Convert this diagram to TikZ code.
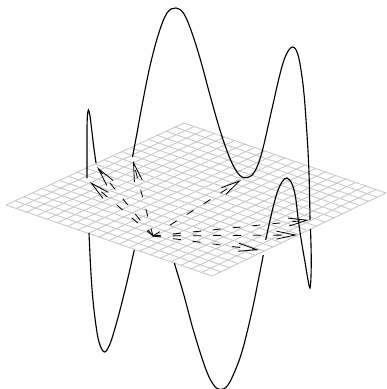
\documentclass[tikz,border=0pt]{standalone}
\usetikzlibrary{calc,arrows.meta}
\begin{document}
\begin{tikzpicture}[
x=0.75pt,y=-0.75pt,
grid line/.style={draw=black!22,line width=0.65pt},
curve/.style={draw=black,line width=0.85pt,smooth,tension=0.6},
projection/.style={-{Straight Barb[length=14pt,width=6pt]},black,line width=0.6pt,dash pattern=on 6pt off 9pt}
]
\useasboundingbox (0,0) rectangle (386,389);
\coordinate (left) at (6,205);
\coordinate (top) at (184,123);
\coordinate (right) at (386,193);
\coordinate (bottom) at (212,276);
\foreach \i in {0,...,20}{
	\draw[grid line] ($(left)!\i/20!(top)$)--($(bottom)!\i/20!(right)$);
	\draw[grid line] ($(left)!\i/20!(bottom)$)--($(top)!\i/20!(right)$);
}
\draw[curve] plot coordinates {(87,178) (87,150) (87,128) (87.5,115) (88.5,110) (90,116) (91.5,128) (93.5,145) (96,163)};
\draw[curve] plot coordinates {(89,233) (90.5,265) (92.5,295) (95.5,322) (99,342) (104.3,352) (109.5,345) (114.5,330) (120,310) (127,282) (134.3,250)};
\draw[curve] plot coordinates {(132.5,157) (137,133) (142.5,103) (150,66) (158.5,34) (167,13) (176,8) (184,14) (192,33) (200.5,60) (210.5,97) (221.5,135) (231.5,162) (240,175.5) (248,177.5) (255,171) (262,152) (271.7,110) (280,74) (286,55) (292.7,47) (298.3,56) (303.3,87) (306.7,130) (309,173) (310,220)};
\draw[curve] plot coordinates {(310.5,229) (311.2,255) (311,276) (310,288) (308,280) (305,262) (301.7,243) (298.3,220) (295.5,197) (292,184) (287,178) (282,182) (277,193) (271.7,213) (265.7,240)};
\draw[curve] plot coordinates {(263.3,255) (255,297) (249.5,322) (243.3,347) (237,366) (228,385) (220,389.5) (213,384) (205,367) (193.3,330) (183.3,293) (174.3,263)};
\coordinate (hub) at (153,236);
\coordinate (p1) at (90,182);
\coordinate (p2) at (97,167);
\coordinate (p3) at (133,161);
\coordinate (p4) at (241,180);
\coordinate (p5) at (259,250);
\coordinate (p6) at (297,235);
\coordinate (p7) at (309,220);
\foreach \p in {p1,p2,p3,p4,p5,p6,p7}{
	\draw[projection] (hub)--(\p);
}
\end{tikzpicture}
\end{document}
